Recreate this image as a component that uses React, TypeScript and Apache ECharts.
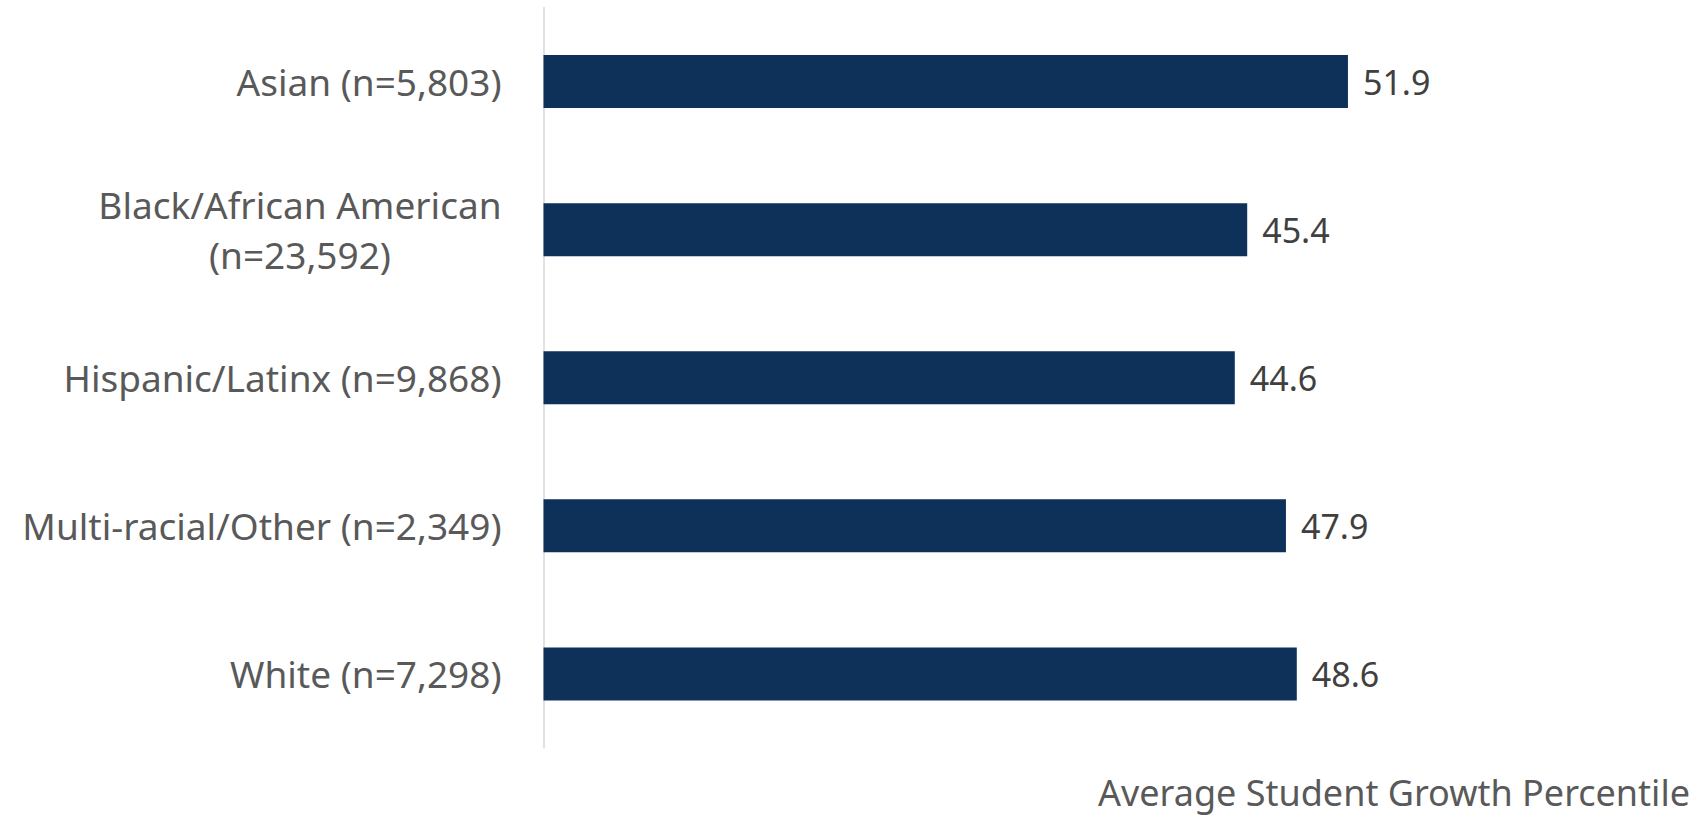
import React, { useEffect, useRef } from "react";
import * as echarts from "echarts";

const categories: string[] = [
  "Asian (n=5,803)",
  "Black/African American\n(n=23,592)",
  "Hispanic/Latinx (n=9,868)",
  "Multi-racial/Other (n=2,349)",
  "White (n=7,298)",
];
const values: number[] = [51.9, 45.4, 44.6, 47.9, 48.6];
const axisTitle = "Average Student Growth Percentile";

const FONT = "Noto Sans";

export default function App() {
  const ref = useRef<HTMLDivElement>(null);
  useEffect(() => {
    if (!ref.current) return;
    const chart = echarts.init(ref.current, undefined, { renderer: "svg" });
    chart.setOption({
      animation: false,
      backgroundColor: "#ffffff",
      grid: { left: 543.5, top: 7.5, bottom: 70, right: 226.5, containLabel: false },
      xAxis: {
        type: "value",
        min: 0,
        max: 60,
        show: false,
        splitLine: { show: false },
      },
      yAxis: {
        type: "category",
        data: categories,
        inverse: true,
        axisLine: { show: true, lineStyle: { color: "#d9d9d9", width: 1.5 } },
        axisTick: { show: false },
        splitLine: { show: false },
        axisLabel: {
          margin: 42,
          color: "#595959",
          fontFamily: FONT,
          fontSize: 37,
          lineHeight: 50,
          formatter: (v: string) =>
            v
              .split("\n")
              .map((l) => `{c|${l}}`)
              .join("\n"),
          rich: {
            c: {
              align: "center",
              color: "#595959",
              fontFamily: FONT,
              fontSize: 37,
              lineHeight: 50,
            },
          },
        },
      },
      series: [
        {
          type: "bar",
          data: values,
          barWidth: 53,
          itemStyle: { color: "#0d3159" },
          label: {
            show: true,
            position: "right",
            distance: 15,
            color: "#404040",
            fontFamily: FONT,
            fontSize: 34,
            formatter: (p: any) => Number(p.value).toFixed(1),
          },
        },
      ],
      graphic: [
        {
          type: "text",
          x: 1690,
          y: 792,
          style: {
            text: axisTitle,
            fill: "#595959",
            font: `36px "${FONT}"`,
            textAlign: "right",
            textVerticalAlign: "middle",
          },
        },
      ],
    });
    return () => chart.dispose();
  }, []);
  return (
    <div
      ref={ref}
      style={{ position: "fixed", left: 0, top: 0, width: 1700, height: 818 }}
    />
  );
}
